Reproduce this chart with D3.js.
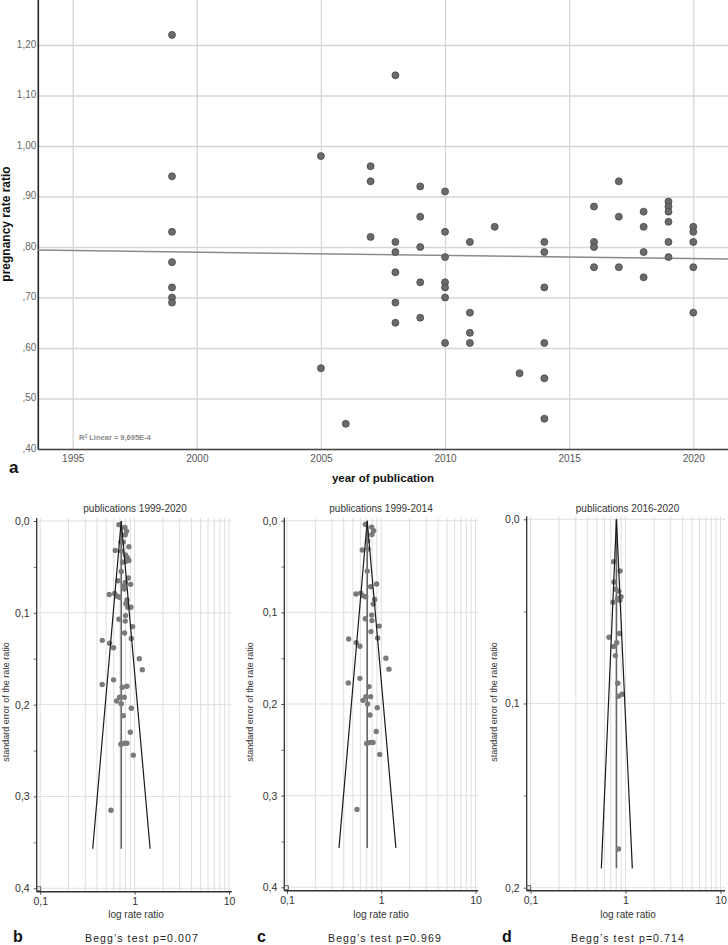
<!DOCTYPE html>
<html lang="en">
<head>
<meta charset="UTF-8">
<title>Pregnancy rate ratio and funnel plots</title>
<script src="https://d3js.org/d3.v7.min.js"></script>
<style>
  body { margin: 0; background: #fff; }
  svg { font-family: "Liberation Sans", Arial, sans-serif; display: block; }
</style>
</head>
<body>
<div id="chart"></div>
<script>
// ---- panel a: scatter of pregnancy rate ratio by year ----
var pubYear = [1999,1999,1999,1999,1999,1999,1999,
  2005,2005, 2006, 2007,2007,2007,
  2008,2008,2008,2008,2008,2008,
  2009,2009,2009,2009,2009,
  2010,2010,2010,2010,2010,2010,2010,
  2011,2011,2011,2011, 2012, 2013,
  2014,2014,2014,2014,2014,2014,
  2016,2016,2016,2016, 2017,2017,2017,
  2018,2018,2018,2018,
  2019,2019,2019,2019,2019,2019,
  2020,2020,2020,2020,2020];
var rateRatio = [1.22,0.94,0.83,0.77,0.72,0.70,0.69,
  0.98,0.56, 0.45, 0.96,0.93,0.82,
  1.14,0.81,0.79,0.75,0.69,0.65,
  0.92,0.86,0.80,0.73,0.66,
  0.91,0.83,0.78,0.73,0.72,0.70,0.61,
  0.81,0.67,0.63,0.61, 0.84, 0.55,
  0.81,0.79,0.72,0.61,0.54,0.46,
  0.88,0.81,0.80,0.76, 0.93,0.86,0.76,
  0.87,0.84,0.79,0.74,
  0.89,0.88,0.87,0.85,0.81,0.78,
  0.84,0.83,0.81,0.76,0.67];
var fitYears = [1993.6, 2021.4];
var fitRatios = [0.794, 0.776];
var topYTicks = [0.40,0.50,0.60,0.70,0.80,0.90,1.00,1.10,1.20];
var topXTicks = [1995,2000,2005,2010,2015,2020];

// ---- panels b, c, d: funnel plots ----
var bRR = [0.682,0.790,0.823,0.796,0.716,0.758,0.871,0.624,0.728,0.803,0.836,0.871,0.803,0.746,0.722,0.857,0.666,0.796,0.907,0.764,0.777,0.539,0.614,0.655,0.693,0.829,0.809,0.850,0.914,0.803,0.682,0.796,0.952,0.783,0.454,0.543,0.599,0.922,1.121,1.206,0.599,0.454,0.740,0.829,0.693,0.777,0.645,0.722,0.922,0.758,0.900,0.716,0.783,0.829,0.968,0.561];
var bSE = [0.004,0.007,0.011,0.015,0.023,0.023,0.028,0.032,0.033,0.037,0.040,0.043,0.044,0.045,0.055,0.062,0.065,0.067,0.069,0.071,0.074,0.080,0.079,0.082,0.083,0.086,0.090,0.094,0.094,0.103,0.107,0.109,0.115,0.122,0.130,0.133,0.138,0.128,0.150,0.162,0.173,0.178,0.181,0.180,0.192,0.192,0.196,0.199,0.204,0.212,0.230,0.243,0.242,0.242,0.255,0.315];
var cRR = [0.677,0.791,0.831,0.797,0.717,0.629,0.723,0.710,0.894,0.772,0.539,0.605,0.644,0.683,0.851,0.823,0.791,0.677,0.797,0.952,0.778,0.916,0.451,0.543,0.594,1.121,1.207,0.594,0.447,0.741,0.688,0.772,0.640,0.717,0.907,0.759,0.885,0.700,0.764,0.817,0.962,0.553];
var cSE = [0.004,0.007,0.011,0.015,0.022,0.032,0.031,0.055,0.069,0.072,0.080,0.079,0.082,0.083,0.086,0.091,0.103,0.107,0.109,0.115,0.121,0.128,0.129,0.133,0.137,0.150,0.162,0.172,0.177,0.181,0.192,0.192,0.196,0.200,0.204,0.212,0.230,0.243,0.242,0.242,0.255,0.315];
var dRR = [0.751,0.877,0.757,0.789,0.849,0.898,0.823,0.739,0.870,0.670,0.864,0.751,0.809,0.783,0.829,0.843,0.920,0.843];
var dSE = [0.023,0.028,0.034,0.038,0.039,0.042,0.043,0.045,0.044,0.064,0.062,0.069,0.067,0.074,0.089,0.096,0.095,0.179];

// funnel outlines: [left bottom, apex, right bottom] as {rr, se}
var bFunnelRR = [0.360, 0.722, 1.46], bFunnelSE = [0.357, 0, 0.357];
var cFunnelRR = [0.356, 0.710, 1.43], cFunnelSE = [0.357, 0, 0.357];
var dFunnelRR = [0.557, 0.803, 1.18], dFunnelSE = [0.1895, 0, 0.1895];

var logGridValues = [0.1,0.2,0.3,0.4,0.5,0.6,0.7,0.8,0.9,1,2,3,4,5,6,7,8,9,10];
var logTickValues = [0.1, 1, 10];
var seTicksWide = [0, 0.1, 0.2, 0.3, 0.4];
var seMinorWide = [0.05, 0.15, 0.25, 0.35];
var seTicksNarrow = [0, 0.1, 0.2];
var seMinorNarrow = [0.05, 0.15];

var svg = d3.select("#chart").append("svg")
    .attr("width", 728).attr("height", 945);

// ================= panel a =================
var aLeft = 38.3, aRight = 728, aTop = 0, aBottom = 449.5;
var x = d3.scaleLinear().domain([1995, 2020]).range([72.7, 693.3]);
var y = d3.scaleLinear().domain([0.4, 1.2]).range([449, 45]);

var fmtTop = function(d) {
    var s = d3.format(".2f")(d).replace(".", ",");
    return s.charAt(0) === "0" ? s.slice(1) : s;
};

// grid lines
var gy = svg.append("g").attr("transform", "translate(" + aLeft + ",0)")
    .call(d3.axisLeft(y).tickValues(topYTicks).tickSize(-(aRight - aLeft)).tickFormat(""));
gy.select(".domain").remove();
gy.selectAll("line").attr("stroke", "#d6d6d6").attr("stroke-width", 1.3);

var gx = svg.append("g").attr("transform", "translate(0," + aBottom + ")")
    .call(d3.axisBottom(x).tickValues(topXTicks).tickSize(-(aBottom - aTop)).tickFormat(""));
gx.select(".domain").remove();
gx.selectAll("line").attr("stroke", "#d6d6d6").attr("stroke-width", 1.3);

// tick labels
var ly = svg.append("g").attr("transform", "translate(" + (aLeft - 2) + ",-1)")
    .call(d3.axisLeft(y).tickValues(topYTicks).tickSize(0).tickPadding(0).tickFormat(fmtTop));
ly.select(".domain").remove();
ly.selectAll("text").attr("fill", "#666").style("font-size", "10px");

var lx = svg.append("g").attr("transform", "translate(0," + aBottom + ")")
    .call(d3.axisBottom(x).tickValues(topXTicks).tickSize(0).tickPadding(5).tickFormat(d3.format("d")));
lx.select(".domain").remove();
lx.selectAll("text").attr("fill", "#555").style("font-size", "10px");

// axis lines
svg.append("line").attr("x1", aLeft).attr("x2", aLeft).attr("y1", aTop).attr("y2", aBottom)
    .attr("stroke", "#222").attr("stroke-width", 1.6);
svg.append("line").attr("x1", aLeft).attr("x2", aRight).attr("y1", aBottom).attr("y2", aBottom)
    .attr("stroke", "#444").attr("stroke-width", 1.6);

// fit line
svg.append("path")
    .datum(d3.zip(fitYears, fitRatios))
    .attr("fill", "none").attr("stroke", "#8a8a8a").attr("stroke-width", 1.5)
    .attr("d", d3.line().x(function(d) { return x(d[0]); }).y(function(d) { return y(d[1]); }));

// points
svg.append("g").selectAll("circle")
    .data(d3.zip(pubYear, rateRatio))
    .enter().append("circle")
    .attr("cx", function(d) { return x(d[0]); })
    .attr("cy", function(d) { return y(d[1]); })
    .attr("r", 3.5)
    .attr("fill", "#6a6a6a").attr("stroke", "#484848").attr("stroke-width", 0.8);

// R² label
var r2 = svg.append("text").attr("x", 79).attr("y", 439.5)
    .attr("fill", "#8a8a8a").style("font-size", "7.5px").style("font-weight", "bold");
r2.append("tspan").text("R");
r2.append("tspan").attr("dy", -2).style("font-size", "5px").text("2");
r2.append("tspan").attr("dy", 2).text(" Linear = 9,695E-4");

// titles
svg.append("text")
    .attr("transform", "translate(10,224) rotate(-90)")
    .attr("text-anchor", "middle")
    .style("font-size", "12px").style("font-weight", "bold").attr("fill", "#111")
    .text("pregnancy rate ratio");
svg.append("text").attr("x", 383).attr("y", 482)
    .attr("text-anchor", "middle")
    .style("font-size", "11.5px").style("font-weight", "bold").attr("fill", "#111")
    .text("year of publication");
svg.append("text").attr("x", 9).attr("y", 473)
    .style("font-size", "17px").style("font-weight", "bold").attr("fill", "#111")
    .text("a");

// ================= panels b, c, d =================
var panels = [
  { rr: bRR, se: bSE, fRR: bFunnelRR, fSE: bFunnelSE, left: 36.7, right: 231.7, x01: 40.2, x10: 229,
    y0: 521, ySpan: 0.4, ySpanPx: 888.3, bottom: 891.7, ticks: seTicksWide, minor: seMinorWide,
    title: "publications 1999-2020", titleX: 135, ylabX: 8.5, letter: "b", letterX: 13,
    begg: "Begg\u2019s test p=0.007", beggX: 142, xlabX: 136 },
  { rr: cRR, se: cSE, fRR: cFunnelRR, fSE: cFunnelSE, left: 284.3, right: 478.3, x01: 287, x10: 475.5,
    y0: 520.7, ySpan: 0.4, ySpanPx: 887.3, bottom: 890.7, ticks: seTicksWide, minor: seMinorWide,
    title: "publications 1999-2014", titleX: 381, ylabX: 253, letter: "c", letterX: 257,
    begg: "Begg\u2019s test p=0.969", beggX: 385, xlabX: 381 },
  { rr: dRR, se: dSE, fRR: dFunnelRR, fSE: dFunnelSE, left: 526.7, right: 725, x01: 530.5, x10: 720.5,
    y0: 519.3, ySpan: 0.2, ySpanPx: 887.7, bottom: 890.7, ticks: seTicksNarrow, minor: seMinorNarrow,
    title: "publications 2016-2020", titleX: 627.5, ylabX: 497, letter: "d", letterX: 502,
    begg: "Begg\u2019s test p=0.714", beggX: 628, xlabX: 628 }
];

var fmtSE = function(d) { return d3.format(".1f")(d).replace(".", ","); };
var fmtLog = function(d) { return d < 1 ? String(d).replace(".", ",") : String(d); };

panels.forEach(function(p) {
    var g = svg.append("g");
    var xs = d3.scaleLog().domain([0.1, 10]).range([p.x01, p.x10]);
    var ys = d3.scaleLinear().domain([0, p.ySpan]).range([p.y0, p.ySpanPx]);

    // vertical grid
    g.append("g").selectAll("line").data(logGridValues).enter().append("line")
        .attr("x1", function(d) { return xs(d); }).attr("x2", function(d) { return xs(d); })
        .attr("y1", p.y0 - 3).attr("y2", p.bottom)
        .attr("stroke", "#dedede").attr("stroke-width", 1);
    // horizontal grid
    g.append("g").selectAll("line").data(p.ticks).enter().append("line")
        .attr("x1", p.left).attr("x2", p.right)
        .attr("y1", function(d) { return ys(d); }).attr("y2", function(d) { return ys(d); })
        .attr("stroke", "#e0e0e0").attr("stroke-width", 1);

    // y axis with labels
    var ay = g.append("g").attr("transform", "translate(" + p.left + ",0)")
        .call(d3.axisLeft(ys).tickValues(p.ticks).tickSize(3).tickPadding(4).tickFormat(fmtSE));
    ay.select(".domain").remove();
    ay.selectAll("line").attr("stroke", "#555");
    ay.selectAll("text").attr("fill", "#333").style("font-size", "10.5px");
    var ayMinor = g.append("g").attr("transform", "translate(" + p.left + ",0)")
        .call(d3.axisLeft(ys).tickValues(p.minor).tickSize(3).tickFormat(""));
    ayMinor.select(".domain").remove();
    ayMinor.selectAll("line").attr("stroke", "#777");

    // x axis labels
    var ax = g.append("g").attr("transform", "translate(0," + p.bottom + ")")
        .call(d3.axisBottom(xs).tickValues(logTickValues).tickSize(3).tickPadding(3).tickFormat(fmtLog));
    ax.select(".domain").remove();
    ax.selectAll("line").attr("stroke", "#555");
    ax.selectAll("text").attr("fill", "#333").style("font-size", "10.5px");

    // axis lines
    g.append("line").attr("x1", p.left).attr("x2", p.left).attr("y1", p.y0 - 3).attr("y2", p.bottom)
        .attr("stroke", "#333").attr("stroke-width", 1.3);
    g.append("line").attr("x1", p.left).attr("x2", p.right).attr("y1", p.bottom).attr("y2", p.bottom)
        .attr("stroke", "#333").attr("stroke-width", 1.5);
    g.append("rect").attr("x", p.left).attr("y", p.bottom - 5).attr("width", 4).attr("height", 4)
        .attr("fill", "none").attr("stroke", "#555").attr("stroke-width", 0.9);

    // center line
    g.append("line")
        .attr("x1", xs(p.fRR[1])).attr("x2", xs(p.fRR[1]))
        .attr("y1", ys(0)).attr("y2", ys(p.fSE[0]))
        .attr("stroke", "#666").attr("stroke-width", 1.6);

    // points
    g.append("g").selectAll("circle").data(d3.zip(p.rr, p.se)).enter().append("circle")
        .attr("cx", function(d) { return xs(d[0]); })
        .attr("cy", function(d) { return ys(d[1]); })
        .attr("r", 2.7)
        .attr("fill", "#7a7a7a");

    // funnel
    g.append("path").datum(d3.zip(p.fRR, p.fSE))
        .attr("fill", "none").attr("stroke", "#1a1a1a").attr("stroke-width", 1.2)
        .attr("d", d3.line().x(function(d) { return xs(d[0]); }).y(function(d) { return ys(d[1]); }));

    // texts
    g.append("text").attr("x", p.titleX).attr("y", 511.5).attr("text-anchor", "middle")
        .attr("fill", "#333").style("font-size", "10px").text(p.title);
    g.append("text").attr("x", p.xlabX).attr("y", 917.5).attr("text-anchor", "middle")
        .attr("fill", "#333").style("font-size", "10px").text("log rate ratio");
    g.append("text").attr("transform", "translate(" + p.ylabX + ",702) rotate(-90)")
        .attr("text-anchor", "middle").attr("fill", "#333").style("font-size", "9px")
        .text("standard error of the rate ratio");
    g.append("text").attr("x", p.letterX).attr("y", 942).attr("fill", "#111")
        .style("font-size", "16px").style("font-weight", "bold").text(p.letter);
    g.append("text").attr("x", p.beggX).attr("y", 942).attr("text-anchor", "middle")
        .attr("fill", "#222").style("font-size", "10.5px").style("letter-spacing", "1.1px")
        .text(p.begg);
});
</script>
</body>
</html>
